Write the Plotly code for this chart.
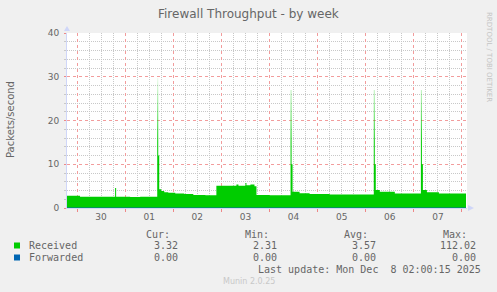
import plotly.graph_objects as go
from datetime import datetime, timedelta

# ---------------- data ----------------
x_start = "2025-11-29 19:00"
x_end = "2025-12-08 02:30"

recv_times = [
    "2025-11-29 19:00", "2025-11-30 01:30", "2025-11-30 19:00", "2025-11-30 19:30",
    "2025-12-01 02:30", "2025-12-01 07:30", "2025-12-01 16:00", "2025-12-01 16:30",
    "2025-12-01 17:00", "2025-12-01 18:00", "2025-12-01 19:30", "2025-12-01 21:30",
    "2025-12-02 01:00", "2025-12-02 05:30", "2025-12-02 10:00", "2025-12-02 16:00",
    "2025-12-02 21:30", "2025-12-03 07:30", "2025-12-03 08:30", "2025-12-03 12:00",
    "2025-12-03 12:30", "2025-12-03 14:30", "2025-12-03 16:30", "2025-12-03 17:30",
    "2025-12-04 00:00", "2025-12-04 10:30", "2025-12-04 11:00", "2025-12-04 11:30",
    "2025-12-04 15:00", "2025-12-04 20:00", "2025-12-05 06:00", "2025-12-06 04:00",
    "2025-12-06 04:30", "2025-12-06 05:00", "2025-12-06 07:00", "2025-12-06 14:30",
    "2025-12-07 03:30", "2025-12-07 04:00", "2025-12-07 04:30", "2025-12-07 06:30",
    "2025-12-07 12:30", "2025-12-08 02:00",
]
recv_values = [
    2.8, 2.6, 4.6, 2.6,
    2.5, 2.6, 29.7, 12.0,
    4.3, 3.9, 3.6, 3.5,
    3.3, 3.2, 3.0, 2.9,
    5.1, 5.4, 5.1, 5.7,
    5.2, 5.4, 5.0, 3.0,
    2.9, 27.0, 10.0, 3.7,
    3.4, 3.2, 3.1, 27.0,
    10.0, 4.1, 3.7, 3.3,
    27.0, 10.0, 4.1, 3.6,
    3.3, 3.3,
]
fwd_times = [x_start, "2025-12-08 02:00"]
fwd_values = [0.0, 0.0]

series_names = ["Received", "Forwarded"]
series_colors = ["#00CC00", "#0066B3"]
stat_headers = ["Cur:", "Min:", "Avg:", "Max:"]
stats = {
    "Received": ["3.32", "2.31", "3.57", "112.02"],
    "Forwarded": ["0.00", "0.00", "0.00", "0.00"],
}
y_ticks = [0, 10, 20, 30, 40]

title = "Firewall Throughput - by week"
y_title = "Packets/second"
last_update = "Last update: Mon Dec \u00a08 02:00:15 2025"
footer = "Munin 2.0.25"
watermark = "RRDTOOL / TOBI OETIKER"

# ---------------- grid positions ----------------
day0 = datetime(2025, 11, 30)
x_major = [(day0 + timedelta(days=k)).strftime("%Y-%m-%d %H:%M") for k in range(9)]
x_minor = [(day0 + timedelta(hours=6 * k - 6)).strftime("%Y-%m-%d %H:%M")
           for k in range(36) if (6 * k - 6) % 24 != 0]
y_minor = [v for v in range(0, 41, 2) if v % 10 != 0]

# ---------------- layout helpers ----------------
W, H = 497, 292
PL, PR, PT, PB = 67, 467, 33, 208


def px(x):
    return (x - PL) / (PR - PL)


def py(y):
    return (PB - y) / (PB - PT)


FONT = "DejaVu Sans"
MONO = "DejaVu Sans Mono"
TXT = "#666666"
AXIS = "#CFD6F8"
MGRID = "#F29C9C"
GRID = "#C8C8C8"

fig = go.Figure()

fig.add_trace(go.Scatter(
    x=recv_times, y=recv_values, mode="lines", line=dict(width=0, shape="hv"),
    fill="tozeroy",
    fillgradient=dict(type="vertical", start=0, stop=30,
                      colorscale=[[0, "#00CC00"], [0.5, "#00CC00"],
                                  [1, "rgba(0,204,0,0.06)"]]),
    hoverinfo="skip", showlegend=False,
))
fig.add_trace(go.Scatter(
    x=fwd_times, y=fwd_values, mode="lines",
    line=dict(width=1, color=series_colors[1]),
    hoverinfo="skip", showlegend=False,
))
# invisible trace carrying the day-label axis
fig.add_trace(go.Scatter(
    x=[x_start, x_end], y=[None, None], xaxis="x2", mode="lines",
    hoverinfo="skip", showlegend=False,
))

fig.update_layout(
    width=W, height=H,
    margin=dict(l=PL, r=W - PR, t=PT, b=H - PB, pad=0),
    paper_bgcolor="#F0F0F0", plot_bgcolor="#FFFFFF",
    font=dict(family=FONT, size=9, color=TXT),
    xaxis=dict(
        type="date", range=[x_start, x_end], tickmode="array", tickvals=x_major,
        showticklabels=False,
        showgrid=True, gridcolor=MGRID, griddash="dot", gridwidth=1,
        ticks="outside", ticklen=3, tickcolor="#EE8888", tickwidth=1,
        minor=dict(tickmode="array", tickvals=x_minor,
                   showgrid=True, gridcolor=GRID, griddash="1px,1px", gridwidth=1,
                   ticks="", ticklen=2, tickcolor=GRID),
        showline=True, linecolor=AXIS, linewidth=1, zeroline=False,
        fixedrange=True,
    ),
    xaxis2=dict(
        type="date", range=[x_start, x_end], overlaying="x", side="bottom",
        anchor="y", tickmode="linear", tick0="2025-11-30 12:00", dtick=86400000,
        tickformat="%d", showgrid=False, ticks="", showline=False, zeroline=False,
        tickfont=dict(family=FONT, size=9, color=TXT), ticklabelstandoff=2,
    ),
    yaxis=dict(
        range=[0, 40], tickmode="array", tickvals=y_ticks,
        showgrid=True, gridcolor=MGRID, griddash="dot", gridwidth=1,
        ticks="outside", ticklen=2, tickcolor="#EE8888",
        minor=dict(tickmode="array", tickvals=y_minor, showgrid=True,
                   gridcolor=GRID, griddash="1px,1px", gridwidth=1,
                   ticks="outside", ticklen=2, tickcolor=GRID),
        showline=True, linecolor=AXIS, linewidth=1, zeroline=False,
        tickfont=dict(family=FONT, size=9, color=TXT), ticklabelstandoff=3,
        fixedrange=True,
    ),
)

ann = []


def add_text(text, x, y, xanchor="left", yanchor="middle", size=10, family=MONO,
             color=TXT, angle=0):
    ann.append(dict(text=text, x=px(x), y=py(y), xref="paper", yref="paper",
                    xanchor=xanchor, yanchor=yanchor, showarrow=False,
                    textangle=angle, font=dict(family=family, size=size, color=color)))


add_text(title, 248, 14, xanchor="center", size=12, family=FONT)
add_text(y_title, 10, 120, xanchor="center", size=10, family=FONT, angle=-90)
add_text(watermark, 489, 57, xanchor="center", size=7, family=FONT,
         color="#C4C4C4", angle=90)

col_right = [180, 279, 378, 478]
header_right = [172, 271, 370, 469]
for h, xr in zip(stat_headers, header_right):
    add_text(h, xr, 234, xanchor="right")

row_y = [245.5, 257.5]
shapes = []
for name, col, yy in zip(series_names, series_colors, row_y):
    add_text(name, 26.5, yy)
    for v, xr in zip(stats[name], col_right):
        add_text(v, xr, yy, xanchor="right")
    shapes.append(dict(type="rect", xref="paper", yref="paper",
                       x0=px(14), x1=px(20), y0=py(yy - 3), y1=py(yy + 3),
                       fillcolor=col, line=dict(width=0)))

add_text(last_update, 483, 269, xanchor="right")
add_text(footer, 249, 281, xanchor="center", size=8, family=FONT, color="#C8C8C8")

# axis arrows
shapes.append(dict(type="path", xref="paper", yref="paper",
                   path=f"M {px(64)},{py(31)} L {px(70)},{py(31)} L {px(67)},{py(26)} Z",
                   fillcolor=AXIS, line=dict(width=0)))
shapes.append(dict(type="path", xref="paper", yref="paper",
                   path=f"M {px(468)},{py(205)} L {px(468)},{py(211)} L {px(474)},{py(208)} Z",
                   fillcolor=AXIS, line=dict(width=0)))

fig.update_layout(annotations=ann, shapes=shapes)
fig.write_html("out.html")
